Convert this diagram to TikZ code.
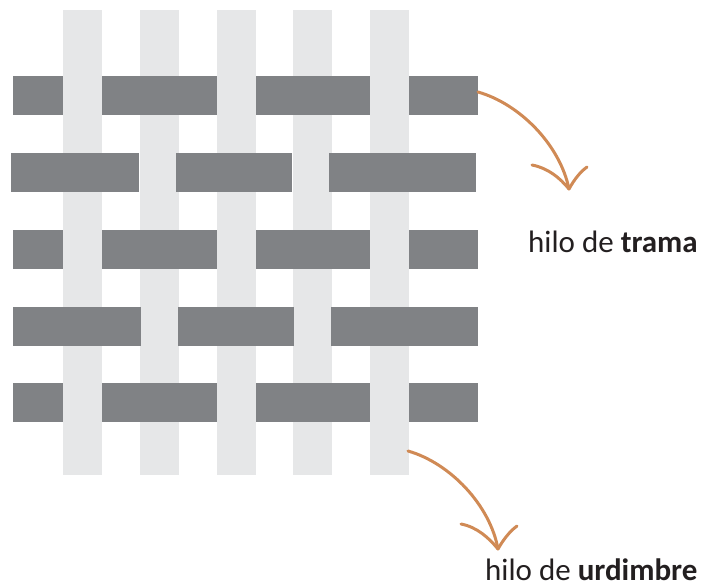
\documentclass[tikz,border=0pt]{standalone}
\usepackage{fontspec}
\setmainfont{Carlito}
\definecolor{warpc}{HTML}{E6E7E8}
\definecolor{weftc}{HTML}{808285}
\definecolor{arrowc}{HTML}{D08A55}
\definecolor{txtc}{HTML}{231F20}
\begin{document}
\begin{tikzpicture}[x=1pt,y=-1pt,
  warp/.style={fill=warpc,draw=none},
  weft/.style={fill=weftc,draw=none},
  curvearrow/.style={draw=arrowc,line width=3pt,line cap=round,line join=round},
  lbl/.style={anchor=base west,inner sep=0pt,text=txtc,font=\fontsize{31}{36}\selectfont}]
\useasboundingbox (0,0) rectangle (707,587);
% warp threads
\foreach \x in {63,140,217,293,370}
  \fill[warp] (\x,10) rectangle ++(39,465);
% weft rows (odd)
\foreach \y in {76,230,383}{
  \fill[weft] (13,\y) rectangle (63,\y+39);
  \fill[weft] (102,\y) rectangle (217,\y+39);
  \fill[weft] (256,\y) rectangle (370,\y+39);
  \fill[weft] (409,\y) rectangle (478,\y+39);
}
% weft rows (even)
\fill[weft] (11,153) rectangle (139,192);
\fill[weft] (176,153) rectangle (292,192);
\fill[weft] (329,153) rectangle (476,192);
\fill[weft] (13,307) rectangle (141,346);
\fill[weft] (178,307) rectangle (294,346);
\fill[weft] (331,307) rectangle (478,346);
% labels
\node[lbl] (trama) at (528,252) {hilo de \textbf{trama}};
\node[lbl] (urd) at (485,580) {hilo de \textbf{urdimbre}};
% arrows
\coordinate (s1) at (478,92);
\coordinate (t1) at (569,189);
\draw[curvearrow] (s1) .. controls (520,104) and (560,145) .. (t1);
\draw[curvearrow] (532,165) .. controls (548,168) and (560,178) .. (t1);
\draw[curvearrow] (587,167) .. controls (580,172) and (574,180) .. (t1);
\coordinate (s2) at (408,451);
\coordinate (t2) at (498,549);
\draw[curvearrow] (s2) .. controls (450,463) and (490,505) .. (t2);
\draw[curvearrow] (461,524) .. controls (477,527) and (489,538) .. (t2);
\draw[curvearrow] (517,526) .. controls (510,531) and (503,540) .. (t2);
\end{tikzpicture}
\end{document}
